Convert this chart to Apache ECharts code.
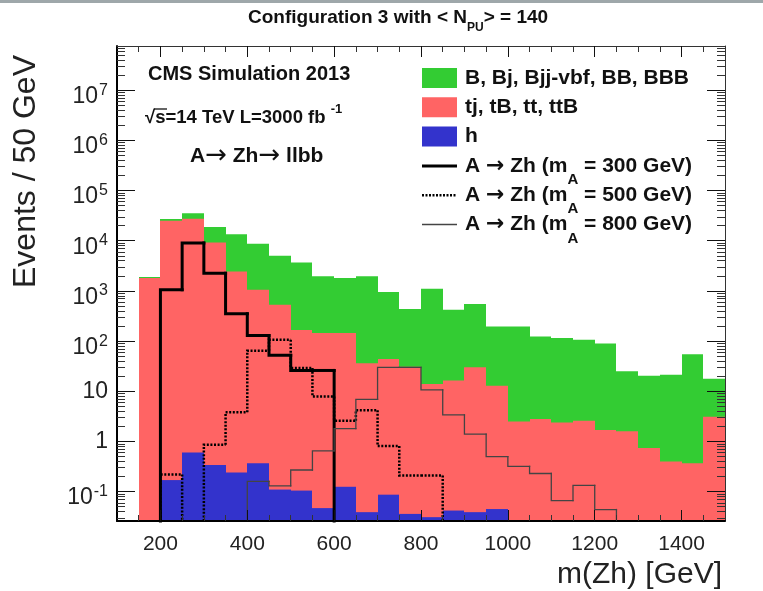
<!DOCTYPE html>
<html>
<head>
<meta charset="utf-8">
<script src="https://cdn.jsdelivr.net/npm/echarts@6/dist/echarts.min.js"></script>
<style>
  html, body { margin: 0; padding: 0; background: #fff; }
  #main { width: 763px; height: 591px; }
</style>
</head>
<body>
<div id="main"></div>
<script>
var FONT = '"Liberation Sans", Arial, Helvetica, sans-serif';
var ARROW_FONT = '"DejaVu Sans", sans-serif';

// lower edges of the 50 GeV bins
var binLow = [150, 200, 250, 300, 350, 400, 450, 500, 550, 600, 650, 700, 750, 800,
  850, 900, 950, 1000, 1050, 1100, 1150, 1200, 1250, 1300, 1350, 1400, 1450];
var binWidth = 50;

// stacked backgrounds, read as the visible top of each layer
var bkgAll = [1900, 27000, 35500, 18700, 13500, 8700, 5000, 3700, 1950, 1800, 1950, 950, 435, 1100,
  420, 550, 195, 195, 123, 115, 107, 90, 25, 20.4, 21.4, 55, 17.8];
var topPlusH = [1800, 25000, 27500, 9200, 2450, 1050, 530, 167, 145, 145, 36, 44, 31, 14,
  16.4, 30, 12.9, 2.5, 2.8, 2.4, 2.6, 1.7, 1.6, 0.74, 0.40, 0.37, 3.1];
var hOnly = [0, 0.17, 0.60, 0.34, 0.24, 0.37, 0.11, 0.105, 0.047, 0.125, 0.039, 0.087, 0.036, 0.031,
  0.042, 0.039, 0.045, 0, 0, 0, 0, 0, 0, 0, 0, 0, 0];

// signals (outlines)
var sig300 = [0, 1050, 9000, 2250, 350, 130, 52, 26, 26, 0, 0, 0, 0, 0,
  0, 0, 0, 0, 0, 0, 0, 0, 0, 0, 0, 0, 0];
var sig500 = [0, 0.22, 0, 0.86, 3.8, 64, 106, 29, 7.9, 2.6, 4.2, 0.81, 0.21, 0.21,
  0, 0, 0, 0, 0, 0, 0, 0, 0, 0, 0, 0, 0];
var sig800 = [0, 0, 0, 0, 0, 0.16, 0.13, 0.27, 0.65, 1.8, 6.9, 30, 30, 10.7,
  3.4, 1.4, 0.50, 0.32, 0.23, 0.066, 0.133, 0.044, 0, 0, 0, 0, 0];

var seriesNames = ['B, Bj, Bjj-vbf, BB, BBB', 'tj, tB, tt, ttB', 'h',
  'A \u2192 Zh (m_A = 300 GeV)', 'A \u2192 Zh (m_A = 500 GeV)', 'A \u2192 Zh (m_A = 800 GeV)'];

var xTickLabels = [200, 400, 600, 800, 1000, 1200, 1400];
var yTickLabels = [0.1, 1, 10, 100, 1000, 10000, 100000, 1000000, 10000000];

var xMin = 100, xMax = 1500, yMin = 0.026, yMax = 7.6e7;

// minor ticks: every 50 GeV, and 2..9 inside each decade
var xMinor = [];
for (var xm = xMin + 50; xm < xMax; xm += 50) {
  if (xm % 200 !== 0) xMinor.push(xm);
}
var yMinor = [];
for (var e = -2; e <= 7; e++) {
  for (var k = 2; k <= 9; k++) {
    var v = k * Math.pow(10, e);
    if (v > yMin && v < yMax) yMinor.push(+v.toPrecision(3));
  }
}

var chart = echarts.init(document.getElementById('main'), null, { renderer: 'canvas' });

function fillSeries(name, values, color, z) {
  return {
    type: 'custom',
    name: name,
    xAxisIndex: 0,
    yAxisIndex: 0,
    z: z,
    itemStyle: { color: color },
    encode: { x: 0, y: 1 },
    data: binLow.map(function (x, i) { return [x, values[i]]; }),
    renderItem: function (params, api) {
      var val = api.value(1);
      if (!(val > 0)) return null;
      var x0 = api.value(0);
      var a = api.coord([x0, val]);
      var b = api.coord([x0 + binWidth, val]);
      var bottom = params.coordSys.y + params.coordSys.height;
      var l = Math.round(a[0]), r = Math.round(b[0]);
      return {
        type: 'rect',
        shape: { x: l, y: a[1], width: r - l, height: bottom - a[1] },
        style: { fill: color }
      };
    }
  };
}

function stepSeries(name, values, color, width, dash) {
  return {
    type: 'custom',
    name: name,
    xAxisIndex: 0,
    yAxisIndex: 0,
    z: 6,
    itemStyle: { color: color },
    encode: { x: 0, y: 1 },
    data: binLow.map(function (x, i) { return [x, values[i], i > 0 ? values[i - 1] : 0]; }),
    renderItem: function (params, api) {
      var x0 = api.value(0), val = api.value(1), prev = api.value(2);
      if (!(val > 0) && !(prev > 0)) return null;
      var bottom = params.coordSys.y + params.coordSys.height;
      var yOf = function (q) { return q > 0 ? api.coord([x0, q])[1] : bottom; };
      var xa = api.coord([x0, 1])[0];
      var xb = api.coord([x0 + binWidth, 1])[0];
      var pts = [[xa, yOf(prev)], [xa, yOf(val)]];
      if (val > 0) pts.push([xb, yOf(val)]);
      return {
        type: 'polyline',
        shape: { points: pts },
        style: {
          stroke: color, lineWidth: width, fill: null,
          lineDash: dash || null, lineCap: dash ? 'butt' : 'square', lineJoin: 'miter'
        }
      };
    }
  };
}

// legend line samples (path icons sized to 35 x 20)
var solidIcon = 'path://M0,0M35,20M0,8.5L35,8.5L35,11.5L0,11.5Z';
var dotIcon = 'path://M0,0M35,20';
for (var d = 0; d < 10; d++) dotIcon += 'M' + (d * 3.5) + ',8.8h2v2.4h-2z';
var thinIcon = 'path://M0,0M35,20M0,9.3L35,9.3L35,10.7L0,10.7Z';

function yLabel(val) {
  var ex = Math.round(Math.log10(val));
  if (ex === 0) return '{p|1}';
  if (ex === 1) return '{p|10}';
  return '{b|10}{e|' + ex + '}';
}

function majorAxisY(pos, withLabels) {
  return {
    type: 'log', logBase: 10, position: pos, min: yMin, max: yMax, z: 10,
    axisLine: { show: true, onZero: false, lineStyle: { color: withLabels ? '#000' : '#333', width: withLabels ? 2 : 1 } },
    axisTick: { show: true, inside: true, length: 18, customValues: yTickLabels, lineStyle: { color: '#111', width: 1 } },
    axisLabel: withLabels ? {
      customValues: yTickLabels, margin: 9, color: '#222', fontFamily: FONT, fontSize: 23,
      formatter: yLabel,
      rich: {
        p: { fontFamily: FONT, fontSize: 23, color: '#222', lineHeight: 36, verticalAlign: 'middle' },
        b: { fontFamily: FONT, fontSize: 23, color: '#222', lineHeight: 36, verticalAlign: 'bottom' },
        e: { fontFamily: FONT, fontSize: 16, color: '#222', lineHeight: 36, verticalAlign: 'middle', padding: [0, 0, 0, 1] }
      }
    } : { show: false },
    splitLine: { show: false }
  };
}

function minorAxisY(pos) {
  return {
    type: 'log', logBase: 10, position: pos, min: yMin, max: yMax, z: 10,
    axisLine: { show: false },
    axisTick: { show: true, inside: true, length: 8, customValues: yMinor, lineStyle: { color: '#333', width: 1 } },
    axisLabel: { show: false },
    splitLine: { show: false }
  };
}

function majorAxisX(pos, withLabels) {
  return {
    type: 'value', position: pos, min: xMin, max: xMax, z: 10,
    axisLine: { show: true, onZero: false, lineStyle: { color: withLabels ? '#000' : '#333', width: withLabels ? 2 : 1 } },
    axisTick: { show: true, inside: true, length: 11, customValues: xTickLabels, lineStyle: { color: '#111', width: 1 } },
    axisLabel: withLabels ? {
      customValues: xTickLabels, margin: 13, color: '#222', fontFamily: FONT, fontSize: 21,
      formatter: function (val) { return String(val); }
    } : { show: false },
    splitLine: { show: false }
  };
}

function minorAxisX(pos) {
  return {
    type: 'value', position: pos, min: xMin, max: xMax, z: 10,
    axisLine: { show: false, onZero: false },
    axisTick: { show: true, inside: true, length: 6, customValues: xMinor, lineStyle: { color: '#333', width: 1 } },
    axisLabel: { show: false },
    splitLine: { show: false }
  };
}

var xBottom = majorAxisX('bottom', true);
xBottom.name = 'm(Zh) [GeV]';
xBottom.nameLocation = 'end';
xBottom.nameGap = -3;
xBottom.nameMoveOverlap = false;
xBottom.nameTextStyle = {
  fontFamily: FONT, fontSize: 30, color: '#222', align: 'right', verticalAlign: 'top', padding: [39, 0, 0, 0]
};

var yLeft = majorAxisY('left', true);
yLeft.name = 'Events / 50 GeV';
yLeft.nameLocation = 'middle';
yLeft.nameRotate = 90;
yLeft.nameGap = 75;
yLeft.nameMoveOverlap = false;
yLeft.nameTextStyle = { fontFamily: FONT, fontSize: 32, color: '#222', padding: [0, 0, 0, 224] };

var option = {
  animation: false,
  backgroundColor: '#fff',
  title: {
    text: 'Configuration 3 with < N{s|PU}> = 140',
    left: 248, top: 5, padding: 0,
    textStyle: {
      fontFamily: FONT, fontSize: 19, fontWeight: 'bold', color: '#111', lineHeight: 26,
      rich: { s: { fontFamily: FONT, fontSize: 12, fontWeight: 'bold', color: '#111', lineHeight: 26, verticalAlign: 'middle', padding: [20, 0, 0, 0] } }
    }
  },
  grid: { left: 117, right: 38, top: 46, bottom: 70, containLabel: false },
  legend: {
    orient: 'vertical', left: 422, top: 56, padding: 0,
    itemWidth: 35, itemHeight: 20, itemGap: -14.7,
    selectedMode: false,
    formatter: function (name) {
      return name.replace('\u2192', '{a|\u2192}').replace('m_A', 'm{s|A}');
    },
    textStyle: {
      fontFamily: FONT, fontSize: 21, fontWeight: 'bold', color: '#111', lineHeight: 44, padding: [0, 0, 0, 3],
      rich: {
        s: { fontFamily: FONT, fontSize: 15, fontWeight: 'bold', color: '#111', lineHeight: 44, verticalAlign: 'middle', padding: [28, 0, 0, 0] },
        a: { fontFamily: ARROW_FONT, fontSize: 22, color: '#111', lineHeight: 44, verticalAlign: 'middle' }
      }
    },
    data: [
      { name: seriesNames[0], icon: 'rect' },
      { name: seriesNames[1], icon: 'rect' },
      { name: seriesNames[2], icon: 'rect' },
      { name: seriesNames[3], icon: solidIcon },
      { name: seriesNames[4], icon: dotIcon },
      { name: seriesNames[5], icon: thinIcon }
    ]
  },
  xAxis: [xBottom, minorAxisX('bottom'), majorAxisX('top', false), minorAxisX('top')],
  yAxis: [yLeft, minorAxisY('left'), majorAxisY('right', false), minorAxisY('right')],
  graphic: [
    { type: 'rect', left: 0, top: 0, shape: { width: 763, height: 3 }, style: { fill: '#9ea7aa' } },
    { type: 'text', left: 148, top: 64, style: { text: 'CMS Simulation 2013', font: 'bold 20px ' + FONT, fill: '#111' } },
    {
      type: 'text', left: 145, top: 103,
      style: {
        text: '{m|\u221As=14 TeV L=3000 fb }{e|-1}',
        rich: {
          m: { fontFamily: FONT, fontSize: 18.5, fontWeight: 'bold', fill: '#111', lineHeight: 30, verticalAlign: 'middle' },
          e: { fontFamily: FONT, fontSize: 13, fontWeight: 'bold', fill: '#111', lineHeight: 30, verticalAlign: 'top' }
        }
      }
    },
    { type: 'line', shape: { x1: 154, y1: 109, x2: 167, y2: 109 }, style: { stroke: '#111', lineWidth: 1.3 } },
    {
      type: 'text', left: 190, top: 143,
      style: {
        text: '{m|A}{a|\u2192}{m| Zh}{a|\u2192}{m| llbb}',
        rich: {
          m: { fontFamily: FONT, fontSize: 21, fontWeight: 'bold', fill: '#111', lineHeight: 26, verticalAlign: 'middle' },
          a: { fontFamily: ARROW_FONT, fontSize: 26, fill: '#111', lineHeight: 26, verticalAlign: 'middle' }
        }
      }
    }
  ],
  series: [
    fillSeries(seriesNames[0], bkgAll, '#33cc33', 2),
    fillSeries(seriesNames[1], topPlusH, '#ff6464', 3),
    fillSeries(seriesNames[2], hOnly, '#3333cc', 4),
    stepSeries(seriesNames[3], sig300, '#000', 3, null),
    stepSeries(seriesNames[4], sig500, '#000', 2.5, [2, 1.6]),
    stepSeries(seriesNames[5], sig800, '#444', 1.3, null)
  ]
};

chart.setOption(option);
</script>
</body>
</html>
